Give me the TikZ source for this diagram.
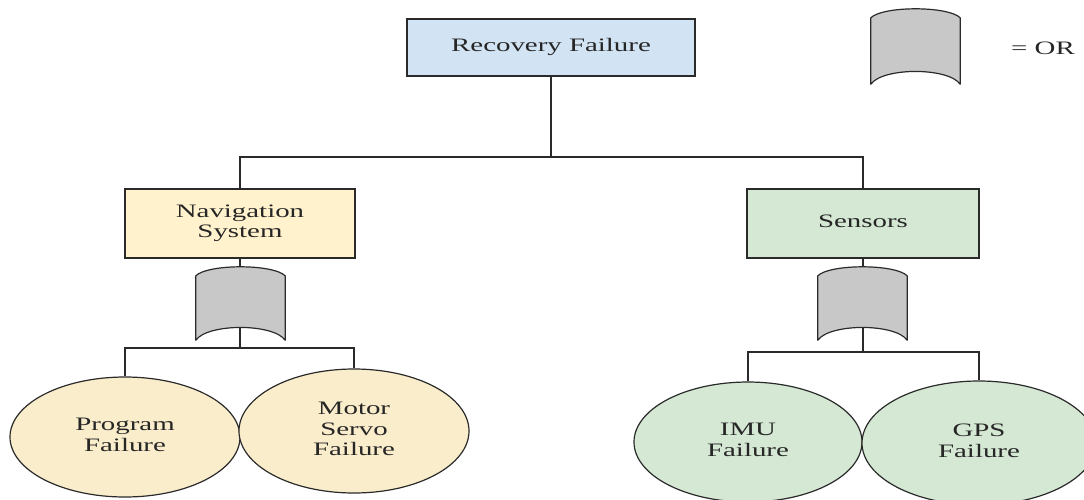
\documentclass[tikz,border=0pt]{standalone}
\usepackage{fontspec}
\usepackage{graphicx}
\setmainfont{Liberation Serif}
\usetikzlibrary{shapes.geometric,backgrounds,calc}

\definecolor{inkgrey}{HTML}{2A2A2A}
\definecolor{textgrey}{HTML}{262626}
\definecolor{topblue}{HTML}{D2E3F3}
\definecolor{navyellow}{HTML}{FFF2CC}
\definecolor{leafyellow}{HTML}{FAEDCB}
\definecolor{sensgreen}{HTML}{D5E8D4}
\definecolor{gategrey}{HTML}{C8C8C8}

% wide serif labels, one or more centred lines
\newcommand{\widelabel}[1]{\scalebox{1.52}[1]{\begin{tabular}{@{}c@{}}#1\end{tabular}}}

% OR gate outline drawn round a placeholder node
\newcommand{\orgateshape}[1]{%
  \draw[gateline] ($(#1.north west)+(0,9)$)
    .. controls ($(#1.north west)+(12,-3)$) and ($(#1.north east)+(-12,-3)$) .. ($(#1.north east)+(0,9)$)
    -- (#1.south east)
    .. controls ($(#1.south east)+(-12,-17)$) and ($(#1.south west)+(12,-17)$) .. (#1.south west)
    -- cycle;}

\begin{document}
\begin{tikzpicture}[x=1pt,y=-1pt,
  every node/.style={font=\fontsize{19}{20.5}\selectfont, text=textgrey, inner sep=0pt},
  boxnode/.style={draw=inkgrey, line width=1.2pt, rectangle},
  leafnode/.style={draw=inkgrey, line width=1.2pt, ellipse},
  gateholder/.style={rectangle, minimum width=89pt},
  gateline/.style={draw=inkgrey, line width=1.2pt, fill=gategrey, line join=round},
  wire/.style={draw=inkgrey, line width=1.2pt}]

\useasboundingbox (0,0) rectangle (1084,499);

% event boxes
\node[boxnode, fill=topblue, minimum width=288pt, minimum height=57pt] (top) at (551,47.5) {\widelabel{Recovery Failure}};
\node[boxnode, fill=navyellow, minimum width=230pt, minimum height=69pt] (nav) at (240,223.5) {\widelabel{Navigation\\System}};
\node[boxnode, fill=sensgreen, minimum width=232pt, minimum height=69pt] (sen) at (863,223.5) {\widelabel{Sensors}};

% basic events
\node[leafnode, fill=leafyellow, minimum width=230pt, minimum height=120pt] (prog) at (125,437) {\widelabel{Program\\Failure}};
\node[leafnode, fill=leafyellow, minimum width=230pt, minimum height=124pt] (motor) at (354,431) {\widelabel{Motor\\Servo\\Failure}};
\node[leafnode, fill=sensgreen, minimum width=228pt, minimum height=120pt] (imu) at (748,442) {\widelabel{IMU\\Failure}};
\node[leafnode, fill=sensgreen, minimum width=234pt, minimum height=124pt] (gps) at (979,443) {\widelabel{GPS\\Failure}};

% OR gates
\node[gateholder, minimum height=73pt] (gnav) at (240.5,303.5) {};
\node[gateholder, minimum height=73pt] (gsen) at (862.5,303.5) {};
\node[gateholder, minimum height=75pt] (gkey) at (915.5,46.5) {};
\orgateshape{gnav}
\orgateshape{gsen}
\orgateshape{gkey}
\node (keytext) at (1043,50) {\widelabel{= OR}};

% junction points of the tree
\coordinate (busT) at (551,157);
\coordinate (busN) at (240,348);
\coordinate (busS) at (863,352);

\begin{scope}[on background layer]
  \draw[wire] (top.south) -- (busT);
  \draw[wire] (nav.north) |- (busT) -| (sen.north);
  \draw[wire] (nav.south) -- (busN);
  \draw[wire] (prog.north) |- (busN) -| (motor.north);
  \draw[wire] (sen.south) -- (busS);
  \draw[wire] (imu.north) |- (busS) -| (gps.north);
\end{scope}
\end{tikzpicture}
\end{document}
